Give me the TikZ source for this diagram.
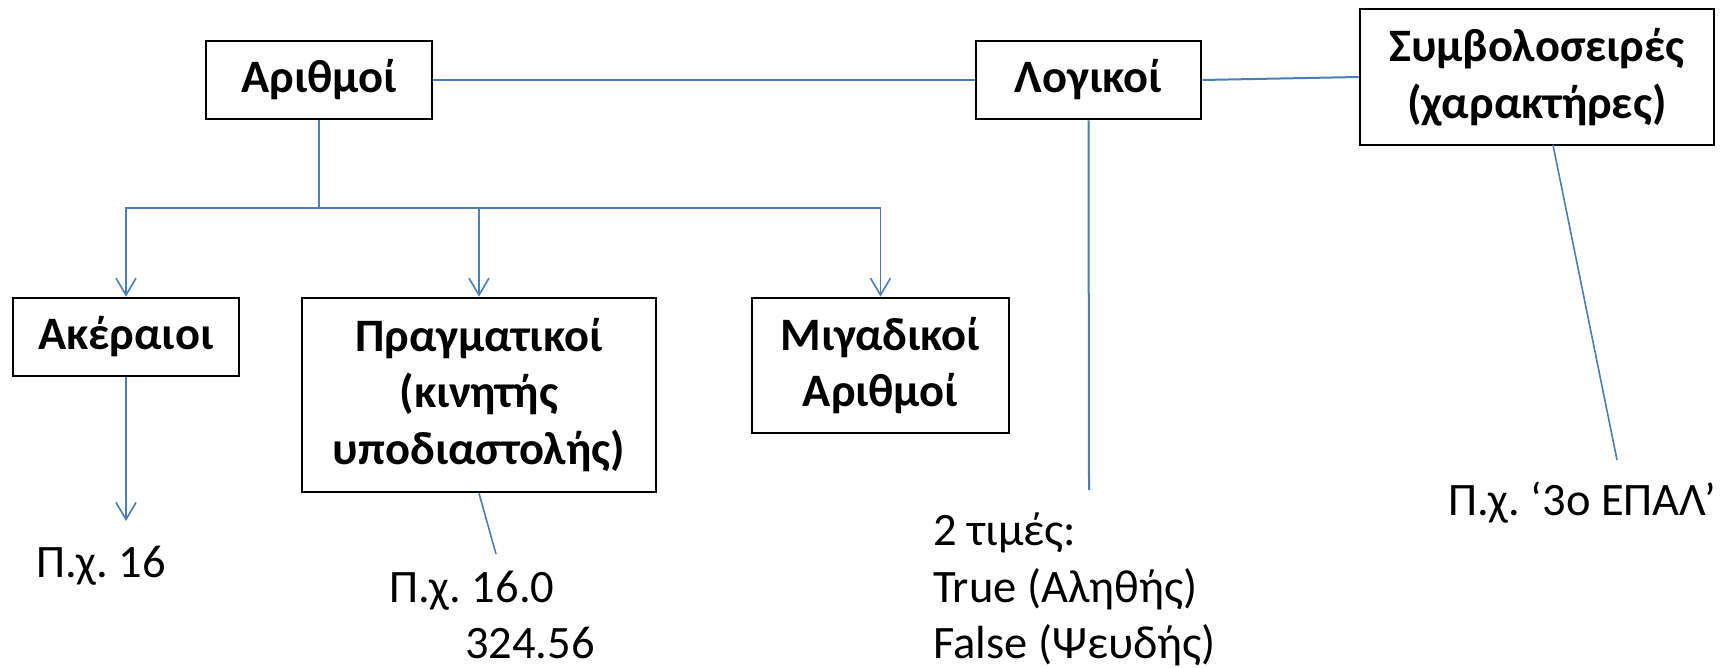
\documentclass[tikz,border=0pt]{standalone}
\usepackage{fontspec}
\setmainfont{Carlito}
\usetikzlibrary{arrows.meta}
\definecolor{connblue}{HTML}{4A7EBB}
\frenchspacing
\begin{document}
\begin{tikzpicture}[x=1pt,y=-1pt,
  box/.style={draw=black, line width=2.6pt, fill=white, align=center, inner sep=0pt,
    font=\bfseries\fontsize{46.5}{56.7}\selectfont},
  conn/.style={draw=connblue, line width=2pt},
  thin conn/.style={draw=connblue, line width=1.6pt},
  arr/.style={-{Straight Barb[length=17pt,width=20pt,line width=1.6pt]}},
  lbl/.style={anchor=base west, inner sep=0pt, font=\fontsize{46.5}{56.7}\selectfont}]
\useasboundingbox (0,0) rectangle (1731,668);

% boxes
\node[box, minimum width=226pt, minimum height=78pt] (arith) at (319,80) {Αριθμοί};
\node[box, minimum width=225pt, minimum height=78pt] (logic) at (1088.5,80) {Λογικοί};
\node[box, minimum width=354pt, minimum height=136pt] (str) at (1537,77) {Συμβολοσειρές\\(χαρακτήρες)};
\node[box, minimum width=226pt, minimum height=78pt] (int) at (126,337) {Ακέραιοι};
\node[box, minimum width=354pt, minimum height=194pt] (real) at (479,395) {Πραγματικοί\\(κινητής\\υποδιαστολής)};
\node[box, minimum width=257pt, minimum height=135pt] (cplx) at (880.5,365.5) {Μιγαδικοί\\Αριθμοί};

% free ends
\coordinate (split) at (319,208);
\coordinate (intEnd) at (126,521);
\coordinate (realEnd) at (496,554);
\coordinate (logEnd) at (1089,490);
\coordinate (strStart) at (1553,145);
\coordinate (strEnd) at (1617,460);

% connectors
\draw[conn] (arith.east) -- (logic.west);
\draw[conn] (logic.east) -- (str.west);
\draw[conn] (arith.south) -- (split);
\draw[thin conn, arr] (split) -| (int.north);
\draw[thin conn, arr] (split) -| (real.north);
\draw[thin conn, arr] (split) -| (cplx.north);
\draw[thin conn, arr] (int.south) -- (intEnd);
\draw[thin conn] (real.south) -- (realEnd);
\draw[conn] (logic.south) -- (logEnd);
\draw[thin conn] (strStart) -- (strEnd);

% labels
\node[lbl] (ex16) at (36,577) {Π.χ. 16};
\node[lbl] (exr1) at (389,602) {Π.χ. 16.0};
\node[lbl] (exr2) at (465,658) {324.56};
\node[lbl] (t1) at (933,545) {2 τιμές:};
\node[lbl] (t2) at (933,602) {True (Αληθής)};
\node[lbl] (t3) at (933,658) {False (Ψευδής)};
\node[lbl] (exs) at (1448,515) {Π.χ. ‘3ο ΕΠΑΛ’};
\end{tikzpicture}
\end{document}
